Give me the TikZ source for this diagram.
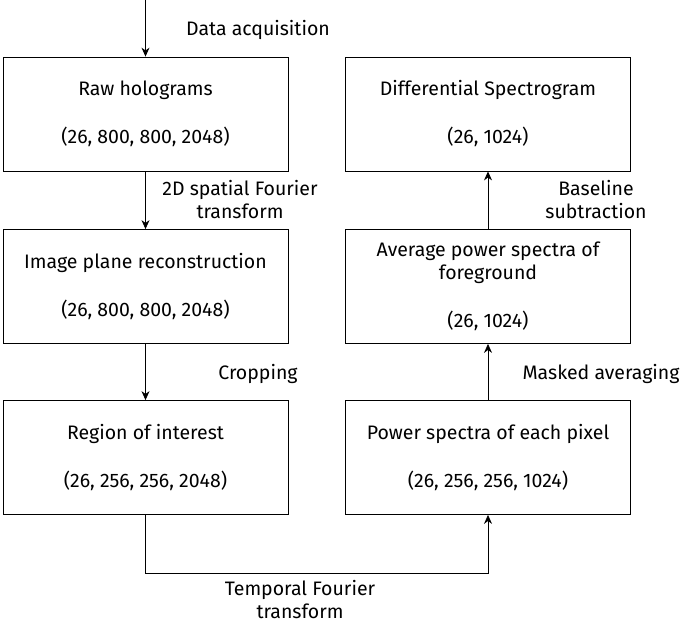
\documentclass[tikz,border=0pt]{standalone}
\usepackage{fontspec}
\setmainfont{Fira Sans}
\usetikzlibrary{positioning,arrows.meta}
\begin{document}
\begin{tikzpicture}[x=1pt,y=-1pt,
                stepnode/.style={rectangle, draw=black, thick, minimum width=285pt, minimum height=114pt, align=center, font=\fontsize{19.5}{23}\selectfont},
                labelnode/.style={align=center, font=\fontsize{19.5}{23}\selectfont},
                >={Stealth[length=9pt,width=8pt]},
                ]
                \useasboundingbox (0,0) rectangle (685,622);
                \node[stepnode] (RH) at (145.5,114) {Raw holograms\\[25pt](26, 800, 800, 2048)};
                \node[stepnode] (IP) at (145.5,286.5) {Image plane reconstruction\\[25pt](26, 800, 800, 2048)};
                \node[stepnode] (RI) at (145.5,457.5) {Region of interest\\[25pt](26, 256, 256, 2048)};
                \node[stepnode] (PS) at (488,457.5) {Power spectra of each pixel\\[25pt](26, 256, 256, 1024)};
                \node[stepnode] (AP) at (488,286.5) {Average power spectra of\\foreground\\[25pt](26, 1024)};
                \node[stepnode] (DS) at (488,114) {Differential Spectrogram\\[25pt](26, 1024)};

                \coordinate (S) at (145.5,0);
                \coordinate (B1) at (145.5,573);
                \coordinate (B2) at (488,573);

                \node[labelnode] (L1) at (258,30) {Data acquisition};
                \node[labelnode] (L2) at (240,200) {2D spatial Fourier\\transform};
                \node[labelnode] (L3) at (258,374) {Cropping};
                \node[labelnode] (L4) at (300,599) {Temporal Fourier\\transform};
                \node[labelnode] (L5) at (596,200) {Baseline\\subtraction};
                \node[labelnode] (L6) at (601,374) {Masked averaging};

                \draw[->, thick] (S) -- (RH.north);
                \draw[->, thick] (RH.south) -- (IP.north);
                \draw[->, thick] (IP.south) -- (RI.north);
                \draw[->, thick] (RI.south) -- (B1) -- (B2) -- (PS.south);
                \draw[->, thick] (PS.north) -- (AP.south);
                \draw[->, thick] (AP.north) -- (DS.south);
            \end{tikzpicture}
\end{document}
